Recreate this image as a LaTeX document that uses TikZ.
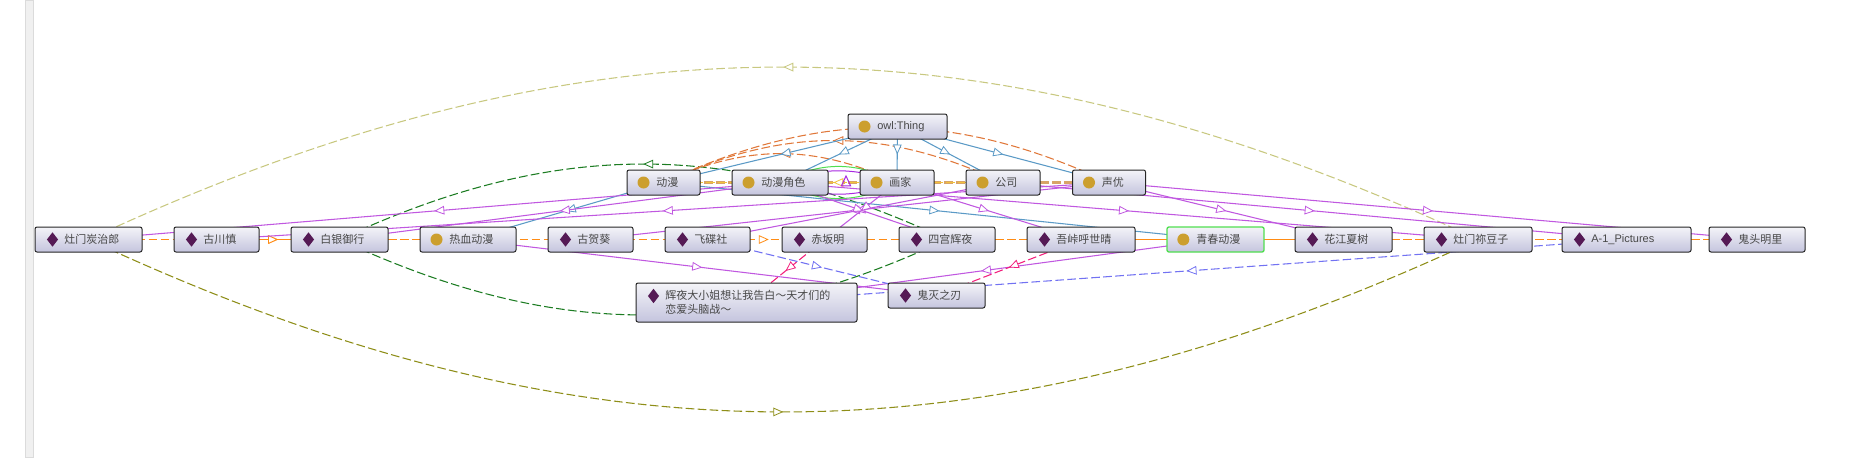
\documentclass[tikz,border=0pt]{standalone}
\usepackage{fontspec}
\setmainfont{Liberation Sans}
\newfontfamily\cjk{Noto Sans CJK SC}
\usepackage{tikz}
\usetikzlibrary{arrows.meta,backgrounds,decorations.markings,shapes.geometric}

\definecolor{boxtop}{HTML}{F4F4F8}
\definecolor{boxbottom}{HTML}{C4C4DE}
\definecolor{subblue}{HTML}{5B9AC6}
\definecolor{typepurple}{HTML}{C058E0}
\definecolor{arcorange}{HTML}{E0783A}
\definecolor{rowtan}{HTML}{D8A468}
\definecolor{rowgold}{HTML}{F2C23C}
\definecolor{roworange}{HTML}{FF8C14}
\definecolor{darkgreen}{HTML}{1C7C22}
\definecolor{darkolive}{HTML}{8E8E18}
\definecolor{paleolive}{HTML}{C8C880}
\definecolor{hotpink}{HTML}{F2207C}
\definecolor{periwinkle}{HTML}{7272F2}
\definecolor{limegreen}{HTML}{50DE50}
\definecolor{vividpurple}{HTML}{A828E0}
\definecolor{dotgold}{HTML}{CC9F2E}
\definecolor{diaplum}{HTML}{551A55}

\tikzset{
  ontobox/.style={draw=black!85,line width=.75pt,rounded corners=1.5pt,top color=boxtop,bottom color=boxbottom,
    text=black!72,inner xsep=0pt,inner ysep=0pt,minimum height=18.75pt,align=left,
    font=\cjk\fontsize{8.25}{10.5}\selectfont,execute at begin node={\hspace*{22pt}}},
  latinbox/.style={ontobox,font=\rmfamily\fontsize{8.25}{10.5}\selectfont},
  classdot/.style={circle,fill=dotgold,inner sep=0pt,minimum size=9pt},
  instdia/.style={diamond,fill=diaplum,inner sep=0pt,minimum width=8.5pt,minimum height=11pt},
  midtip/.style={postaction={decorate,decoration={markings,
    mark=at position .5 with {\arrow{Triangle[fill=white,length=7.5pt,width=6.5pt,line width=.6pt]}}}}},
  subedge/.style={draw=subblue,line width=.8pt,midtip},
  typeedge/.style={draw=typepurple,line width=.8pt,midtip},
  plainedge/.style={line width=.8pt,dash pattern=on 6.5pt off 2.5pt},
  dashedge/.style={plainedge,midtip},
}

\begin{document}
\begin{tikzpicture}[x=.75pt,y=.75pt]
  \useasboundingbox (0,0) rectangle (1867,-457);

  % class row
  \node[latinbox,text width=74.25pt] (nowl) at (897.5,-126.5) {owl:Thing};
  \node[ontobox,text width=54.75pt] (ndm) at (663.5,-182.5) {动漫};
  \node[ontobox,text width=72pt] (njs) at (780,-182.5) {动漫角色};
  \node[ontobox,text width=55.5pt] (nhj) at (897,-182.5) {画家};
  \node[ontobox,text width=55.5pt] (ngs) at (1003,-182.5) {公司};
  \node[ontobox,text width=54.75pt] (nsy) at (1109,-182.5) {声优};

  % instance row
  \node[ontobox,text width=80.25pt] (ntan) at (88.5,-239.5) {灶门炭治郎};
  \node[ontobox,text width=63.75pt] (ngc) at (216.5,-239.5) {古川慎};
  \node[ontobox,text width=72.75pt] (nbai) at (339.5,-239.5) {白银御行};
  \node[ontobox,text width=72pt] (nrx) at (468,-239.5) {热血动漫};
  \node[ontobox,text width=63.75pt] (ngh) at (590.5,-239.5) {古贺葵};
  \node[ontobox,text width=63.75pt] (nfd) at (707.5,-239.5) {飞碟社};
  \node[ontobox,text width=63.75pt] (nck) at (824.5,-239.5) {赤坂明};
  \node[ontobox,text width=72pt] (nsi) at (947,-239.5) {四宫辉夜};
  \node[ontobox,text width=81pt] (nwu) at (1081,-239.5) {吾峠呼世晴};
  \node[ontobox,text width=72.75pt,draw=limegreen,line width=1pt] (nqc) at (1215.5,-239.5) {青春动漫};
  \node[ontobox,text width=72.75pt] (nhua) at (1343.5,-239.5) {花江夏树};
  \node[ontobox,text width=81pt] (ndou) at (1478,-239.5) {灶门祢豆子};
  \node[latinbox,text width=96.75pt] (na1) at (1626.5,-239.5) {A-1\_Pictures};
  \node[ontobox,text width=72pt] (ngt) at (1757,-239.5) {鬼头明里};

  % lower row
  \node[ontobox,text width=165.75pt,minimum height=29.25pt] (nhy) at (746.5,-302.5) {辉夜大小姐想让我告白～天才们的\\\hspace*{22pt}恋爱头脑战～};
  \node[ontobox,text width=72.75pt] (ngm) at (936.5,-295.5) {鬼灭之刃};

  % icons
  \node[classdot] (dowl) at ([xshift=12.75pt]nowl.west) {};
  \node[classdot] (ddm) at ([xshift=12.75pt]ndm.west) {};
  \node[classdot] (djs) at ([xshift=12.75pt]njs.west) {};
  \node[classdot] (dhj) at ([xshift=12.75pt]nhj.west) {};
  \node[classdot] (dgs) at ([xshift=12.75pt]ngs.west) {};
  \node[classdot] (dsy) at ([xshift=12.75pt]nsy.west) {};
  \node[classdot] (drx) at ([xshift=12.75pt]nrx.west) {};
  \node[classdot] (dqc) at ([xshift=12.75pt]nqc.west) {};
  \node[instdia] (dtan) at ([xshift=13.5pt]ntan.west) {};
  \node[instdia] (dgc) at ([xshift=13.5pt]ngc.west) {};
  \node[instdia] (dbai) at ([xshift=13.5pt]nbai.west) {};
  \node[instdia] (dgh) at ([xshift=13.5pt]ngh.west) {};
  \node[instdia] (dfd) at ([xshift=13.5pt]nfd.west) {};
  \node[instdia] (dck) at ([xshift=13.5pt]nck.west) {};
  \node[instdia] (dsi) at ([xshift=13.5pt]nsi.west) {};
  \node[instdia] (dwu) at ([xshift=13.5pt]nwu.west) {};
  \node[instdia] (dhua) at ([xshift=13.5pt]nhua.west) {};
  \node[instdia] (ddou) at ([xshift=13.5pt]ndou.west) {};
  \node[instdia] (da1) at ([xshift=13.5pt]na1.west) {};
  \node[instdia] (dgt) at ([xshift=13.5pt]ngt.west) {};
  \node[instdia] (dhy) at ([xshift=13.5pt,yshift=4.9pt]nhy.west) {};
  \node[instdia] (dgm) at ([xshift=13.5pt]ngm.west) {};

  \node[isosceles triangle,shape border rotate=90,isosceles triangle apex angle=50,draw=vividpurple,line width=.75pt,
    inner sep=0pt,minimum height=7.5pt] (nloop) at (846,-183) {};

  \begin{pgfonlayer}{background}
    \fill[fill=black!6,draw=black!14] (25,0) rectangle (33,-457);

    % big arcs
    \draw[dashedge,draw=paleolive] (ndou.center) .. controls +(155:544) and +(25:544) .. (ntan.center);
    \draw[dashedge,draw=darkolive] (ntan.center) .. controls +(-25:544) and +(-155:544) .. (ndou.center);
    \draw[dashedge,draw=darkgreen] (nsi.center) .. controls +(155:238) and +(25:238) .. (nbai.center);
    \draw[plainedge,draw=darkgreen] (nbai.center) .. controls +(-25:238) and +(-155:238) .. (nsi.center);
    \draw[dashedge,draw=arcorange] (nsy.center) to[bend right=25] (ndm.center);
    \draw[dashedge,draw=arcorange] (ngs.center) to[bend right=25] (ndm.center);
    \draw[dashedge,draw=arcorange] (nhj.center) to[bend right=25] (ndm.center);

    % loops between the classes
    \draw[draw=limegreen,line width=.75pt] (nhj.center) to[bend right=28] (njs.center);
    \draw[draw=limegreen,line width=.75pt] (njs.center) to[bend right=28] (nhj.center);
    \draw[draw=vividpurple,line width=.75pt] (nhj.center) to[bend right=20] (njs.center);
    \draw[draw=vividpurple,line width=.75pt] (njs.center) to[bend right=20] (nhj.center);

    % straight rows
    \draw[dashedge,draw=rowtan,line width=1.6pt] (nsy.center) -- (ndm.center);
    \draw[dashedge,draw=rowgold] (ngs.center) -- (ndm.center);
    \draw[dashedge,draw=roworange] (ntan.center) -- (nrx.center);
    \draw[dashedge,draw=roworange] (ngc.center) -- (nbai.center);
    \draw[dashedge,draw=roworange] (nbai.center) -- (ngh.center);
    \draw[dashedge,draw=roworange] (ngh.center) -- (nsi.center);
    \draw[dashedge,draw=roworange] (nsi.center) -- (ngt.center);
    \draw[dashedge,draw=roworange,dash phase=4pt] (nwu.center) -- (nhua.center);

    % subclass
    \draw[subedge] (nowl.center) -- (ndm.center);
    \draw[subedge] (nowl.center) -- (njs.center);
    \draw[subedge] (nowl.center) -- (nhj.center);
    \draw[subedge] (nowl.center) -- (ngs.center);
    \draw[subedge] (nowl.center) -- (nsy.center);
    \draw[subedge] (ndm.center) -- (nrx.center);
    \draw[subedge] (ndm.center) -- (nqc.center);

    % instances
    \draw[typeedge] (njs.center) -- (ntan.center);
    \draw[typeedge] (njs.center) -- (nbai.center);
    \draw[typeedge] (nsy.center) -- (ngc.center);
    \draw[typeedge] (nsy.center) -- (ngh.center);
    \draw[typeedge] (ngs.center) -- (nfd.center);
    \draw[typeedge] (nhj.center) -- (nck.center);
    \draw[typeedge] (njs.center) -- (nsi.center);
    \draw[typeedge] (nhj.center) -- (nwu.center);
    \draw[typeedge] (njs.center) -- (ndou.center);
    \draw[typeedge] (nsy.center) -- (nhua.center);
    \draw[typeedge] (ngs.center) -- (na1.center);
    \draw[typeedge] (nsy.center) -- (ngt.center);
    \draw[typeedge] (nrx.center) -- (ngm.center);
    \draw[typeedge] (nqc.center) -- (nhy.center);

    % authors and studios
    \draw[dashedge,draw=hotpink] (nck.center) -- (nhy.center);
    \draw[dashedge,draw=hotpink] (nwu.center) -- (ngm.center);
    \draw[dashedge,draw=periwinkle] (nfd.center) -- (ngm.center);
    \draw[dashedge,draw=periwinkle] (na1.center) -- (nhy.center);
  \end{pgfonlayer}
\end{tikzpicture}
\end{document}
